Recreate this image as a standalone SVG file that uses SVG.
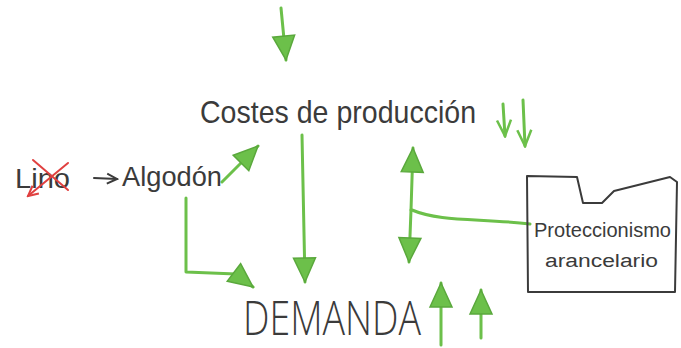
<svg xmlns="http://www.w3.org/2000/svg" width="681" height="348" viewBox="0 0 681 348">
<style>
.t{font-family:"Liberation Sans",Arial,sans-serif;fill:#3b3b3b;}
.lt{font-family:"Open Sans","Liberation Sans",sans-serif;font-weight:300;fill:#3b3b3b;}
.g{fill:none;stroke:#6cc04a;stroke-width:3;stroke-linecap:round;stroke-linejoin:round;}
.d{fill:none;stroke:#3b3b3b;stroke-width:2;stroke-linecap:round;}
.r{fill:none;stroke:#e04040;stroke-width:2;stroke-linecap:round;}
</style>
<defs>
<marker id="ah" markerUnits="userSpaceOnUse" markerWidth="30" markerHeight="30" viewBox="0 0 30 30" refX="28" refY="15" orient="auto">
<path d="M4,4 L28,15 L4,26 Z" fill="#6cc04a" stroke="#5aa83c" stroke-width="1.5"/>
</marker>
<marker id="ahs" markerUnits="userSpaceOnUse" markerWidth="20" markerHeight="20" viewBox="0 0 20 20" refX="18" refY="10" orient="auto">
<path d="M2,3 L18,10 L2,17" fill="none" stroke="#6cc04a" stroke-width="2.5"/>
</marker>
<marker id="ahr" markerUnits="userSpaceOnUse" markerWidth="14" markerHeight="14" viewBox="0 0 14 14" refX="12" refY="7" orient="auto">
<path d="M2,2 L12,7 L2,12" fill="none" stroke="#e04040" stroke-width="2"/>
</marker>
<marker id="ahd" markerUnits="userSpaceOnUse" markerWidth="14" markerHeight="14" viewBox="0 0 14 14" refX="12" refY="7" orient="auto">
<path d="M2,2 L12,7 L2,12" fill="none" stroke="#3b3b3b" stroke-width="2"/>
</marker>
</defs>

<g id="connectors">
<path class="g" d="M281,8 L286,60" marker-end="url(#ah)"/>
<path class="g" d="M222,182 L258,146" marker-end="url(#ah)"/>
<path class="g" d="M302,135 L305,282" marker-end="url(#ah)"/>
<path class="g" d="M186,198 L186,272 L236,274 L253,287" marker-end="url(#ah)"/>
<path class="g" d="M503,104 L505,136" marker-end="url(#ahs)"/>
<path class="g" d="M523,100 L525,146" marker-end="url(#ahs)"/>
<path class="g" d="M411,210 L413,148" marker-end="url(#ah)"/>
<path class="g" d="M411,210 L409,262" marker-end="url(#ah)"/>
<path class="g" d="M412,210 C440,222 480,218 530,224"/>
<path class="g" d="M441,345 L441,283" marker-end="url(#ah)"/>
<path class="g" d="M481,338 L481,290" marker-end="url(#ah)"/>
<path class="d" d="M94,178 L117,179" marker-end="url(#ahd)"/>
</g>

<g id="lino">
<text class="t" x="15" y="188" font-size="28" textLength="55" lengthAdjust="spacingAndGlyphs">Lino</text>
<path class="r" d="M33,160 L68,190"/>
<path class="r" d="M68,163 L28,196" marker-end="url(#ahr)"/>
</g>

<g id="algodon">
<text class="t" x="122" y="186" font-size="27" textLength="100" lengthAdjust="spacingAndGlyphs">Algodón</text>
</g>

<g id="costes">
<text class="t" x="200" y="123" font-size="32" textLength="276" lengthAdjust="spacingAndGlyphs">Costes de producción</text>
</g>

<g id="demanda">
<text class="lt" x="243" y="335" font-size="48" textLength="178" lengthAdjust="spacingAndGlyphs">DEMANDA</text>
</g>

<g id="proteccionismo">
<path d="M527,176 L577,177 L583,203 L602,203 L614,191 L670,177 L677,182 L675,292 L528,292 Z" fill="none" stroke="#3b3b3b" stroke-width="2" stroke-linejoin="round"/>
<text class="t" x="534" y="237" font-size="21" textLength="137" lengthAdjust="spacingAndGlyphs">Proteccionismo</text>
<text class="t" x="545" y="267" font-size="18" textLength="113" lengthAdjust="spacingAndGlyphs">arancelario</text>
</g>
</svg>
